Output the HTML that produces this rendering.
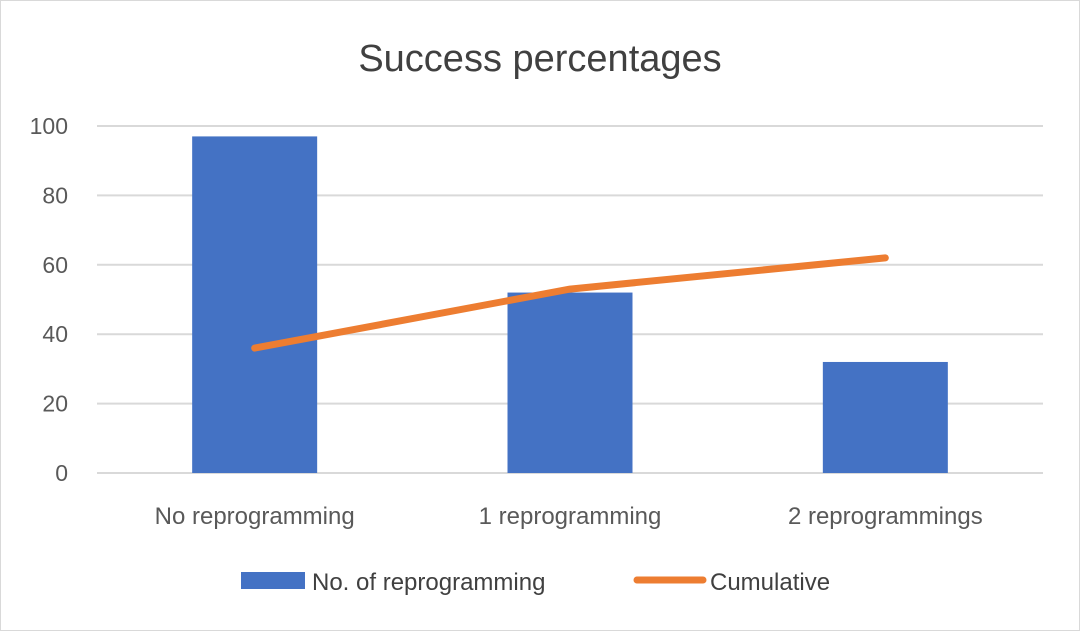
<!DOCTYPE html>
<html><head><style>
body{margin:0;background:#fff;}
svg{display:block;font-family:"Liberation Sans",sans-serif;}
</style></head><body>
<svg id="chart" width="1080" height="631" viewBox="0 0 1080 631">
<rect x="0.5" y="0.5" width="1079" height="630" fill="#fff" stroke="#d9d9d9"/>
<text x="540" y="71" text-anchor="middle" font-size="38" fill="#404040">Success percentages</text>
<g id="grid"></g><g id="bars"></g><g id="line"></g><g id="labels"></g>
<g>
<rect x="241" y="572" width="64" height="17" fill="#4472c4"/>
<text x="312" y="590" font-size="24" fill="#404040">No. of reprogramming</text>
<line x1="637" y1="580" x2="703" y2="580" stroke="#ed7d31" stroke-width="7" stroke-linecap="round"/>
<text x="710" y="590" font-size="24" fill="#404040">Cumulative</text>
</g>
</svg>
<script>
const categories=["No reprogramming","1 reprogramming","2 reprogrammings"];
const barValues=[97,52,32];
const lineValues=[36,53,62];
const yTicks=[0,20,40,60,80,100];
const NS="http://www.w3.org/2000/svg";
const L=97,R=1043,T=126,B=473,maxV=100;
const y=v=>B-(v/maxV)*(B-T);
const bw=(R-L)/categories.length;
const xc=i=>L+bw*(i+0.5);
function mk(tag,attrs,parent){const e=document.createElementNS(NS,tag);for(const k in attrs)e.setAttribute(k,attrs[k]);document.getElementById(parent).appendChild(e);return e;}
yTicks.forEach(t=>{
 const g=mk("line",{x1:L,x2:R,y1:y(t),y2:y(t),stroke:"#d9d9d9","stroke-width":2},"grid");
 
 
 const tx=mk("text",{x:68,y:y(t)+8,"text-anchor":"end","font-size":23,fill:"#595959"},"labels");
 tx.textContent=t;
 
 
});
barValues.forEach((v,i)=>{
 const r=mk("rect",{x:xc(i)-62.5,y:y(v),width:125,height:B-y(v),fill:"#4472c4"},"bars");
 
 
});
categories.forEach((c,i)=>{
 const tx=mk("text",{x:xc(i),y:524,"text-anchor":"middle","font-size":24,fill:"#595959"},"labels");
 tx.textContent=c;
 
 
});
const p=mk("polyline",{points:lineValues.map((v,i)=>xc(i)+","+y(v)).join(" "),fill:"none",stroke:"#ed7d31","stroke-width":7,"stroke-linecap":"round","stroke-linejoin":"round"},"line");


</script>
</body></html>
